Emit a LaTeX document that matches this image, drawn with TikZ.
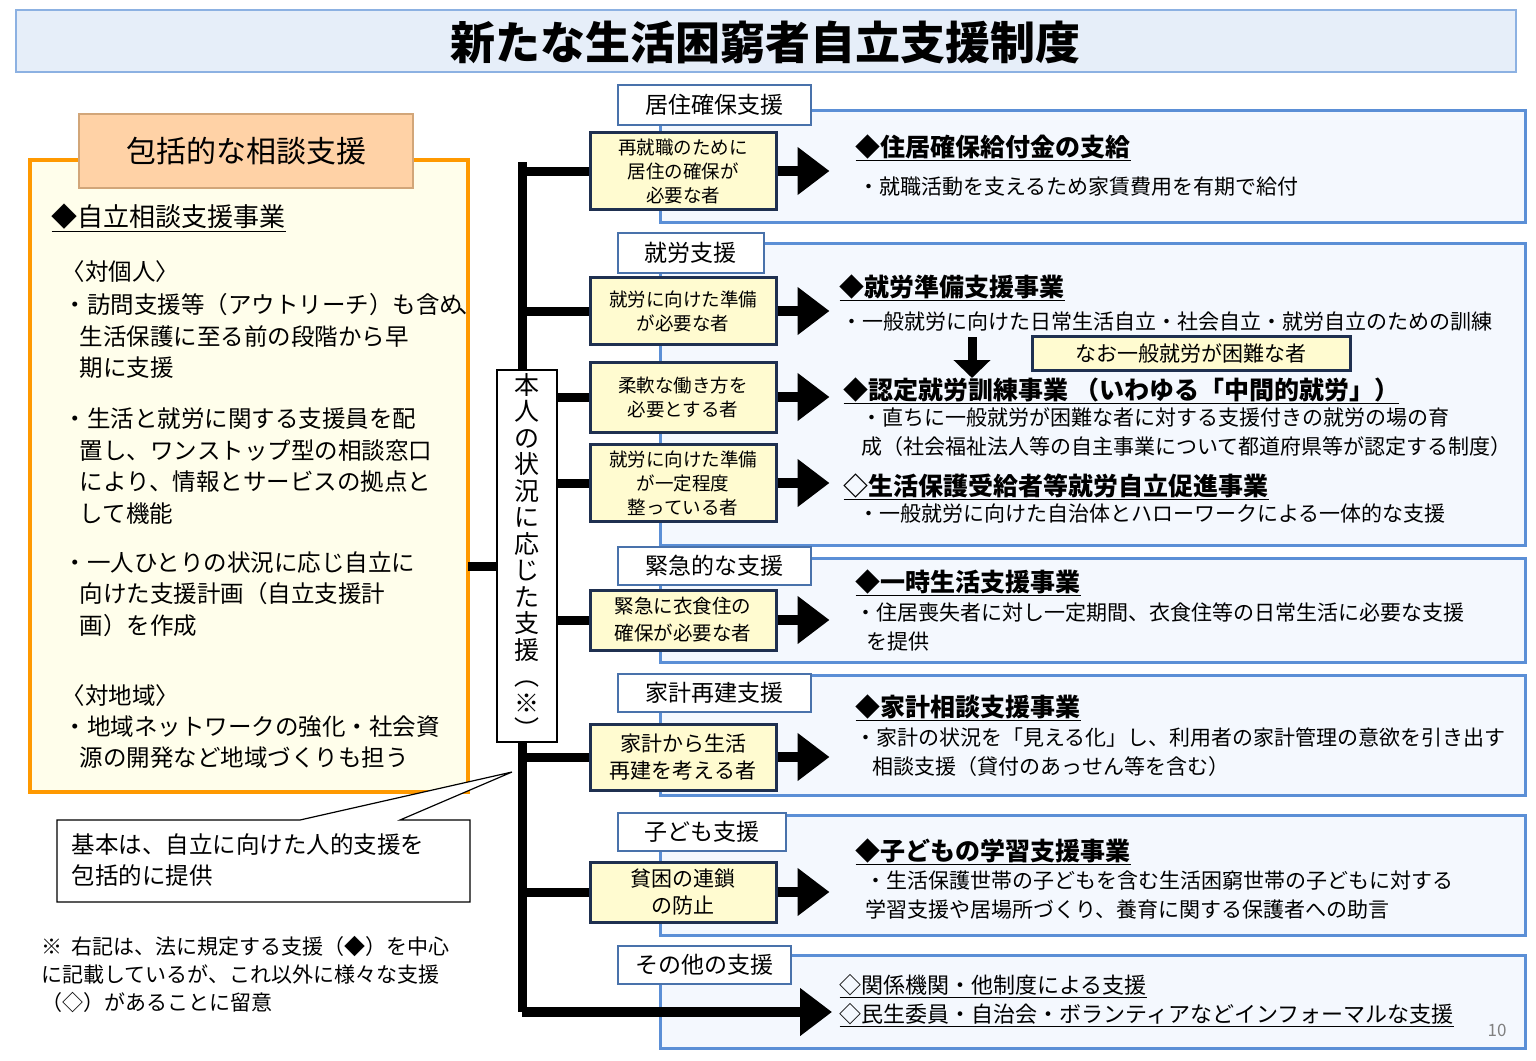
\documentclass[tikz,border=0pt]{standalone}
\usepackage{fontspec}
\setmainfont{Noto Sans CJK JP}
\usetikzlibrary{arrows.meta,calc}
\definecolor{pb}{HTML}{5B8FD6}
\definecolor{pf}{HTML}{F4F8FE}
\definecolor{yb}{HTML}{FFFBD0}
\definecolor{nv}{HTML}{1F3050}
\newcommand{\fz}[2]{\fontsize{#1}{#2}\selectfont}
\tikzset{
 panel/.style={draw=pb,line width=3pt,fill=pf},
 tab/.style={draw=pb!80!black,line width=1.5pt,fill=white,anchor=north west,inner sep=0pt,font=\fz{23}{26}},
 mid/.style={draw=nv,line width=3pt,fill=yb,align=center,inner sep=2pt,minimum width=186pt,font=\fz{18.5}{24}},
 blk/.style={line width=10pt,-{Triangle[length=32pt,width=46pt]}},
 bar/.style={line width=9pt},
 head/.style={anchor=west,font=\bfseries\fz{25}{28}},
 body/.style={anchor=west,font=\fz{21}{29},align=left},
 lt/.style={anchor=west,font=\fz{23.5}{31.5},align=left}
}
\begin{document}
\begin{tikzpicture}[x=1pt,y=-1pt]
\useasboundingbox[fill=white] (0,0) rectangle (1536,1060);
% title
\node[draw=pb!70,line width=2pt,fill=pb!15,minimum width=1500pt,minimum height=62pt,anchor=north west] (title) at (15,9) {};
\node[font=\bfseries\fz{45}{48}] (tt) at (765,42) {新たな生活困窮者自立支援制度};
% left box
\draw[draw=orange!80!yellow,line width=3.5pt,fill=yellow!8] (30,160) rectangle (468,792);
\node[draw=brown!70,line width=2pt,fill=orange!35,minimum width=334pt,minimum height=74pt,anchor=north west,font=\fz{30}{32}] (hd) at (78,113) {包括的な相談支援};
\node[anchor=west,font=\fz{26}{28}] (l0) at (48,218) {\underline{◆自立相談支援事業}};
\node[lt] (l1) at (58,272) {〈対個人〉};
\node[lt,text width=400pt] (l2) at (60,336) {・訪問支援等（アウトリーチ）も含め\kern-0.2em、\\\hspace*{0.7em}生活保護に至る前の段階から早\\\hspace*{0.7em}期に支援};
\node[lt,text width=400pt] (l3) at (60,466) {・生活と就労に関する支援員を配\\\hspace*{0.7em}置し、ワンストップ型の相談窓口\\\hspace*{0.7em}により、情報とサービスの拠点と\\\hspace*{0.7em}して機能};
\node[lt,text width=400pt] (l4) at (60,594) {・一人ひとりの状況に応じ自立に\\\hspace*{0.7em}向けた支援計画（自立支援計\\\hspace*{0.7em}画）を作成};
\node[lt] (l5) at (58,696) {〈対地域〉};
\node[lt,text width=400pt] (l6) at (60,742) {・地域ネットワークの強化・社会資\\\hspace*{0.7em}源の開発など地域づくりも担う};
% callout
\coordinate (tip) at (512,772);
\draw[line width=1.2pt,fill=white] (57,820) -- (300,820) -- (tip) -- (400,820) -- (470,820) -- (470,902) -- (57,902) -- cycle;
\node[lt,text width=400pt] (co) at (68,860) {基本は、自立に向けた人的支援を\\包括的に提供};
\node[anchor=west,font=\fz{21}{28},align=left] (nt) at (38,975) {※\ \ 右記は、法に規定する支援（◆）を中心\\に記載しているが、これ以外に様々な支援\\（◇）があることに留意};
% panels
\draw[panel] (660,110) rectangle (1525,222);
\draw[panel] (660,243) rectangle (1525,545);
\draw[panel] (660,558) rectangle (1525,662);
\draw[panel] (660,675) rectangle (1525,795);
\draw[panel] (660,815) rectangle (1525,935);
\draw[panel] (660,955) rectangle (1525,1048);
\node[tab,minimum width=193pt,minimum height=40pt] (t1) at (617,84) {居住確保支援};
\node[tab,minimum width=146pt,minimum height=40pt] (t2) at (617,232) {就労支援};
\node[tab,minimum width=193pt,minimum height=38pt] (t3) at (617,546) {緊急的な支援};
\node[tab,minimum width=193pt,minimum height=38pt] (t4) at (617,673) {家計再建支援};
\node[tab,minimum width=168pt,minimum height=38pt] (t5) at (617,812) {子ども支援};
\node[tab,minimum width=173pt,minimum height=38pt] (t6) at (617,945) {その他の支援};
% bar
\coordinate (top) at (522,162);
\coordinate (bot) at (522,1012);
\draw[bar] (top) -- (bot);
% mid boxes
\node[mid,minimum height=77pt] (b1) at (683,171) {再就職のために\\居住の確保が\\必要な者};
\node[mid,minimum height=67pt] (b2) at (683,311) {就労に向けた準備\\が必要な者};
\node[mid,minimum height=70pt] (b3) at (683,397) {柔軟な働き方を\\必要とする者};
\node[mid,minimum height=77pt] (b4) at (683,483) {就労に向けた準備\\が一定程度\\整っている者};
\node[mid,minimum height=60pt,font=\fz{19.5}{27}] (b5) at (683,620) {緊急に衣食住の\\確保が必要な者};
\node[mid,minimum height=66pt,font=\fz{21}{27}] (b6) at (683,757) {家計から生活\\再建を考える者};
\node[mid,minimum height=60pt,font=\fz{21}{27}] (b7) at (683,892) {貧困の連鎖\\の防止};
\foreach \b in {b1,b2,b3,b4,b5,b6,b7}{
 \draw[bar] (\b.west) -- (\b.west-|top);
 \draw[blk] (\b.east) -- ++(52,0);
}
\coordinate (ae) at (832,1012);
\draw[blk] (bot) -- (ae);
% label box
\node[draw,line width=2pt,fill=white,minimum width=60pt,minimum height=372pt,font=\fz{25}{26.5},inner sep=0pt] (lab) at (527,556) {\parbox{1.1em}{\centering 本\\人\\の\\状\\況\\に\\応\\じ\\た\\支\\援\\︵\\※\\︶}};
\coordinate (lc) at (468,566);
\draw[bar] (lc) -- (lab.west|-lc);
% panel texts
\node[head] (h1) at (852,148) {\underline{◆住居確保給付金の支給}};
\node[body] (d1) at (855,187) {・就職活動を支えるため家賃費用を有期で給付};
\node[head] (h2) at (836,288) {\underline{◆就労準備支援事業}};
\node[body] (d2) at (838,322) {・一般就労に向けた日常生活自立・社会自立・就労自立のための訓練};
\coordinate (da) at (972,337);
\coordinate (db) at (972,378);
\draw[line width=9pt,-{Triangle[length=18pt,width=36pt]}] (da) -- (db);
\node[draw=nv,line width=3pt,fill=yb,minimum width=318pt,minimum height=34pt,font=\fz{21}{24}] (na) at (1191,353) {なお一般就労が困難な者};
\node[head] (h3) at (840,391) {\underline{◆認定就労訓練事業\ （いわゆる「中間的就労」）}};
\node[body] (d3) at (858,432) {・直ちに一般就労が困難な者に対する支援付きの就労の場の育\\成（社会福祉法人等の自主事業について都道府県等が認定する制度）};
\node[head] (h4) at (840,487) {\underline{◇生活保護受給者等就労自立促進事業}};
\node[body] (d4) at (855,514) {・一般就労に向けた自治体とハローワークによる一体的な支援};
\node[head] (h5) at (852,583) {\underline{◆一時生活支援事業}};
\node[body] (d5) at (852,627) {・住居喪失者に対し一定期間、衣食住等の日常生活に必要な支援\\\hspace*{0.5em}を提供};
\node[head] (h6) at (852,708) {\underline{◆家計相談支援事業}};
\node[body] (d6) at (852,752) {・家計の状況を「見える化」し、利用者の家計管理の意欲を引き出す\\\hspace*{0.8em}相談支援（貸付のあっせん等を含む）};
\node[head] (h7) at (852,852) {\underline{◆子どもの学習支援事業}};
\node[body] (d7) at (862,895) {・生活保護世帯の子どもを含む生活困窮世帯の子どもに対する\\学習支援や居場所づくり、養育に関する保護者への助言};
\node[anchor=west,font=\fz{22}{24}] (o1) at (836,986) {\underline{◇関係機関・他制度による支援}};
\node[anchor=west,font=\fz{22}{24}] (o2) at (836,1015) {\underline{◇民生委員・自治会・ボランティアなどインフォーマルな支援}};
\node[font=\fz{17}{18},text=gray] (pg) at (1497,1030) {10};
\end{tikzpicture}
\end{document}
